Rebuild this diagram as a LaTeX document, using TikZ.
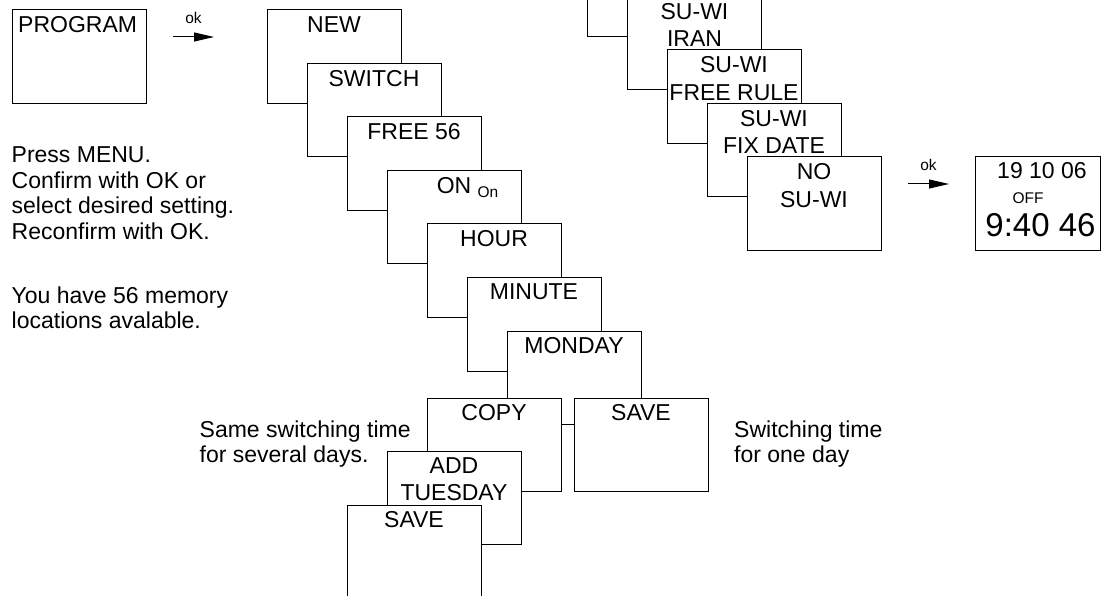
\documentclass[tikz,border=0pt]{standalone}
\usepackage{fontspec}
\setmainfont{Liberation Sans}
\usetikzlibrary{arrows.meta}

\begin{document}
\begin{tikzpicture}[
    x=1pt, y=-1pt,
    screen/.style={rectangle, draw, fill=white, line width=1pt, anchor=north west,
                   minimum width=134pt, minimum height=93.5pt, inner sep=0pt, outer sep=0pt},
    caption/.style={anchor=north, yshift=-6.3pt, inner sep=0pt, align=center,
                    font=\fontsize{23}{27.5}\selectfont},
    note/.style={anchor=north west, inner sep=0pt, align=left,
                 font=\fontsize{23}{25.5}\selectfont},
    oktext/.style={anchor=base, inner sep=0pt, font=\fontsize{15.5}{18}\selectfont},
    link/.style={-{Triangle[length=20pt, width=9pt]}, line width=1pt}
]
    \useasboundingbox (0,0) rectangle (1101,596);

    \node[screen, label={[caption, anchor=north west, xshift=6pt]north west:PROGRAM}] (prog) at (12,10) {};

    % main menu cascade
    \node[screen, label={[caption]north:NEW}] (new) at (267,10) {};
    \node[screen, label={[caption]north:SWITCH}] (switch) at (307,63.5) {};
    \node[screen, label={[caption]north:FREE 56}] (free) at (347,117) {};
    \node[screen, label={[caption]north:ON\rlap{\ \raisebox{-4pt}{\fontsize{15.5}{18}\selectfont On}}}] (on) at (387,170.5) {};
    \node[screen, label={[caption]north:HOUR}] (hour) at (427,224) {};
    \node[screen, label={[caption]north:MINUTE}] (minute) at (467,277.5) {};
    \node[screen, label={[caption]north:MONDAY}] (monday) at (507,331) {};
    \node[screen, label={[caption]north:COPY}] (copy) at (427,398) {};
    \node[screen, label={[caption]north:SAVE}] (save) at (574,398) {};
    \node[screen, label={[caption]north:ADD\\TUESDAY}] (add) at (387,451) {};
    \node[screen, label={[caption]north:SAVE}] (savedays) at (347,505) {};

    % summer / winter time cascade
    \node[screen] (suwi) at (587,-57) {};
    \node[screen, label={[caption]north:SU-WI\\IRAN}] (iran) at (627.5,-3.5) {};
    \node[screen, label={[caption]north:SU-WI\\FREE RULE}] (freerule) at (667,50) {};
    \node[screen, label={[caption]north:SU-WI\\FIX DATE}] (fixdate) at (707,103.5) {};
    \node[screen, label={[caption]north:NO\\SU-WI}] (nosuwi) at (747,157) {};

    % display
    \node[screen, minimum width=125pt] (clock) at (975,157) {};
    \node[anchor=base, inner sep=0pt, font=\fontsize{23}{26}\selectfont] (date) at (1042,179) {19 10 06};
    \node[oktext] (state) at (1028,204) {OFF};
    \node[anchor=base, inner sep=0pt, font=\fontsize{33}{36}\selectfont] (time) at (1040.5,237) {9:40 46};

    % notes
    \node[note] (hint) at (11.5,146.5) {Press MENU.\\Confirm with OK or\\select desired setting.\\Reconfirm with OK.};
    \node[note] (memory) at (11.5,286.5) {You have 56 memory\\locations avalable.};
    \node[note] (several) at (199.5,420.5) {Same switching time\\for several days.};
    \node[note] (oneday) at (734,420.5) {Switching time\\for one day};

    \coordinate (ok1a) at (173,37);
    \coordinate (ok1b) at (214,37);
    \coordinate (ok2a) at (908,184);
    \coordinate (ok2b) at (949,184);
    \draw[link] (ok1a) -- (ok1b) node[oktext, midway, yshift=13pt] (ok1) {ok};
    \draw[link] (ok2a) -- (ok2b) node[oktext, midway, yshift=13.3pt] (ok2) {ok};
\end{tikzpicture}
\end{document}
